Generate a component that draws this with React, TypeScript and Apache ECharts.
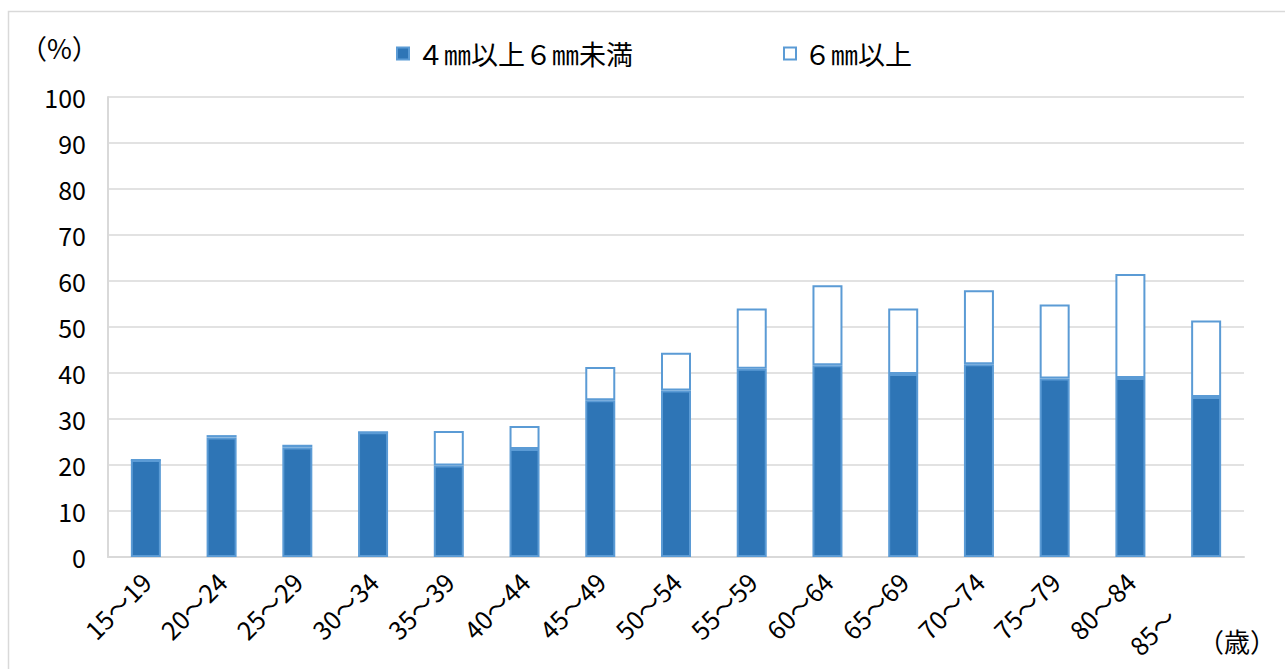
import React, { useEffect, useRef } from "react";
import * as echarts from "echarts";

const categories = [
  "15～19", "20～24", "25～29", "30～34", "35～39", "40～44", "45～49", "50～54",
  "55～59", "60～64", "65～69", "70～74", "75～79", "80～84", "85～",
];
const seriesNames = ["４㎜以上６㎜未満", "６㎜以上"];
const under6mm = [21.1, 26.0, 23.8, 27.1, 19.9, 23.5, 34.1, 36.2, 40.9, 41.7, 39.8, 41.9, 38.8, 38.9, 34.8];
const over6mm = [0, 0.5, 0.6, 0, 7.5, 5.0, 7.2, 8.2, 13.1, 17.4, 14.2, 16.1, 16.1, 22.6, 16.6];
const yMin = 0;
const yMax = 100;
const yInterval = 10;
const yUnit = "（%）";
const xUnit = "（歳）";

const FONT = "'Noto Sans CJK JP', 'Noto Sans', sans-serif";

export default function App() {
  const ref = useRef<HTMLDivElement>(null);
  useEffect(() => {
    if (!ref.current) return;
    const chart = echarts.init(ref.current, null, { renderer: "svg" });
    chart.setOption({
      animation: false,
      backgroundColor: "#fff",
      textStyle: { fontFamily: FONT, color: "#000" },
      grid: { left: 108, right: 41, top: 97, bottom: 112, containLabel: false },
      legend: {
        data: seriesNames,
        left: 396,
        top: 40,
        padding: 0,
        itemWidth: 12,
        itemHeight: 12,
        itemGap: 150,
        icon: "rect",
        textStyle: { fontFamily: FONT, fontSize: 27, color: "#000", padding: [0, 0, 0, 3] },
      },
      xAxis: {
        type: "category",
        data: categories,
        axisLine: { show: true, lineStyle: { color: "#d9d9d9", width: 2 } },
        axisTick: { show: false },
        axisLabel: {
          rotate: 45,
          interval: 0,
          margin: 20,
          fontFamily: FONT,
          fontSize: 25,
          color: "#000",
          formatter: (v: string) => (v.endsWith("～") ? v + "　　" : v),
        },
      },
      yAxis: {
        type: "value",
        min: yMin,
        max: yMax,
        interval: yInterval,
        axisLine: { show: true, lineStyle: { color: "#d9d9d9", width: 2 } },
        axisTick: { show: false },
        splitLine: { show: true, lineStyle: { color: "#d9d9d9", width: 1.5 } },
        axisLabel: { margin: 22, fontFamily: FONT, fontSize: 25, color: "#000" },
      },
      series: [
        {
          name: seriesNames[0],
          type: "bar",
          stack: "total",
          data: under6mm,
          barWidth: 30,
          itemStyle: { color: "#2E75B6", borderColor: "#5B9BD5", borderWidth: 2 },
        },
        {
          name: seriesNames[1],
          type: "bar",
          stack: "total",
          data: over6mm,
          barWidth: 30,
          itemStyle: { color: "#ffffff", borderColor: "#5B9BD5", borderWidth: 2 },
        },
      ],
      graphic: [
        {
          type: "rect",
          shape: { x: 8.5, y: 11.5, width: 1300, height: 700 },
          style: { fill: "none", stroke: "#d9d9d9", lineWidth: 1.5 },
          silent: true,
        },
        {
          type: "text",
          x: 20,
          y: 47,
          style: { text: yUnit, font: `27px ${FONT}`, fill: "#000", textVerticalAlign: "middle" },
        },
        {
          type: "text",
          x: 1198,
          y: 640,
          style: { text: xUnit, font: `26px ${FONT}`, fill: "#000", textVerticalAlign: "middle" },
        },
      ],
    });
    return () => chart.dispose();
  }, []);
  return (
    <div
      ref={ref}
      style={{ position: "absolute", left: 0, top: 0, width: 1285, height: 669 }}
    />
  );
}
